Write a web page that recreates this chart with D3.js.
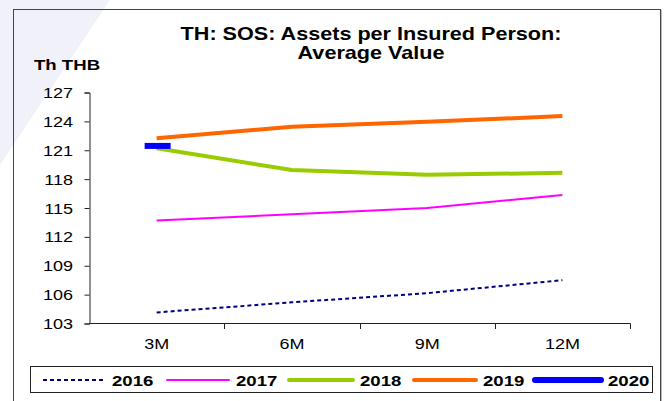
<!DOCTYPE html>
<html>
<head>
<meta charset="utf-8">
<script src="https://cdn.jsdelivr.net/npm/d3@7"></script>
<style>
  body { margin: 0; background: #fff; }
  svg { display: block; font-family: "Liberation Sans", Arial, sans-serif; }
</style>
</head>
<body>
<div id="chart"></div>
<script>
// Data
const categories = ['3M', '6M', '9M', '12M'];
const yTicks = [103, 106, 109, 112, 115, 118, 121, 124, 127];
const s2016 = [104.15, 105.2, 106.15, 107.5];
const s2017 = [113.7, 114.35, 115.0, 116.35];
const s2018 = [121.2, 118.95, 118.45, 118.65];
const s2019 = [122.25, 123.45, 123.95, 124.55];
const s2020 = [121.45];

const series = [
  {name: '2016', values: s2016, color: '#000080', width: 2, dash: '4,3'},
  {name: '2017', values: s2017, color: '#ff00ff', width: 2, dash: null},
  {name: '2018', values: s2018, color: '#99cc00', width: 4, dash: null},
  {name: '2019', values: s2019, color: '#ff6600', width: 4, dash: null},
  {name: '2020', values: s2020, color: '#0000ff', width: 6, dash: null}
];

const W = 669, H = 401;
const SX = 1.2; // text in the original is a bit wide
const svg = d3.select('#chart').append('svg')
  .attr('width', W).attr('height', H);

// text helper: anchored at (x,y), stretched horizontally
function label(x, y, str, size, bold, anchor) {
  return svg.append('text')
    .attr('transform', `translate(${x},${y}) scale(${SX},1)`)
    .attr('text-anchor', anchor || 'start')
    .attr('font-size', size)
    .attr('font-weight', bold ? 'bold' : 'normal')
    .attr('fill', '#000')
    .text(str);
}

// faint background swoosh
svg.append('path')
  .attr('d', 'M0,0 L110,0 L0,165 Z')
  .attr('fill', '#f1f1f9');

// chart frame
svg.append('rect')
  .attr('x', 13.5).attr('y', 9.5).attr('width', 647).attr('height', 400)
  .attr('fill', 'none').attr('stroke', '#444').attr('stroke-width', 1);
svg.append('line')
  .attr('x1', 661.5).attr('x2', 661.5).attr('y1', 10).attr('y2', H)
  .attr('stroke', '#bbb').attr('stroke-width', 1);

// scales
const x = d3.scaleBand().domain(categories).range([89, 630]);
const y = d3.scaleLinear().domain([103, 127]).range([323.5, 92.5]);

// title
label(371, 40, 'TH: SOS: Assets per Insured Person:', 18, true, 'middle');
label(371, 59, 'Average Value', 18, true, 'middle');
label(34, 70, 'Th THB', 15.5, true, 'start');

// y axis
const yAxis = svg.append('g')
  .attr('transform', 'translate(89.5,0)')
  .call(d3.axisLeft(y).tickValues(yTicks).tickSize(5).tickFormat(''));
yAxis.selectAll('line, path').attr('stroke', '#222');
yTicks.forEach(t => label(73, y(t) + 5.5, String(t), 15, false, 'end'));

// x axis
svg.append('line')
  .attr('x1', 89).attr('x2', 630.5).attr('y1', 323.5).attr('y2', 323.5)
  .attr('stroke', '#222');
svg.selectAll('.xtick')
  .data(categories)
  .enter().append('line')
  .attr('x1', d => Math.round(x(d) + x.bandwidth()) + 0.5)
  .attr('x2', d => Math.round(x(d) + x.bandwidth()) + 0.5)
  .attr('y1', 323.5).attr('y2', 329)
  .attr('stroke', '#222');
categories.forEach(c => label(x(c) + x.bandwidth() / 2, 349, c, 15, false, 'middle'));

// lines
const line = d3.line()
  .x((d, i) => x(categories[i]) + x.bandwidth() / 2)
  .y(d => y(d));

series.filter(s => s.values.length > 1).forEach(s => {
  svg.append('path')
    .datum(s.values)
    .attr('d', line)
    .attr('fill', 'none')
    .attr('stroke', s.color)
    .attr('stroke-width', s.width)
    .attr('stroke-dasharray', s.dash)
    .attr('stroke-linejoin', 'round');
});

// single-point series drawn as a dash marker
series.filter(s => s.values.length === 1).forEach(s => {
  svg.append('rect')
    .attr('x', x(categories[0]) + x.bandwidth() / 2 - 12)
    .attr('y', y(s.values[0]) - 3)
    .attr('width', 26).attr('height', 6)
    .attr('fill', s.color);
});

// legend
svg.append('rect')
  .attr('x', 30.5).attr('y', 366.5).attr('width', 622).attr('height', 26)
  .attr('fill', '#fff').attr('stroke', '#222');
const legendX = [43, 167, 289, 414, 535];
const legendLen = [62, 62, 64, 62, 66];
series.forEach((s, i) => {
  svg.append('line')
    .attr('x1', legendX[i]).attr('x2', legendX[i] + legendLen[i])
    .attr('y1', 380).attr('y2', 380)
    .attr('stroke', s.color)
    .attr('stroke-width', s.width)
    .attr('stroke-dasharray', s.dash)
    .attr('stroke-linecap', s.dash ? 'butt' : 'round');
  label(legendX[i] + legendLen[i] + 7, 386, s.name, 15.5, true, 'start');
});
</script>
</body>
</html>
